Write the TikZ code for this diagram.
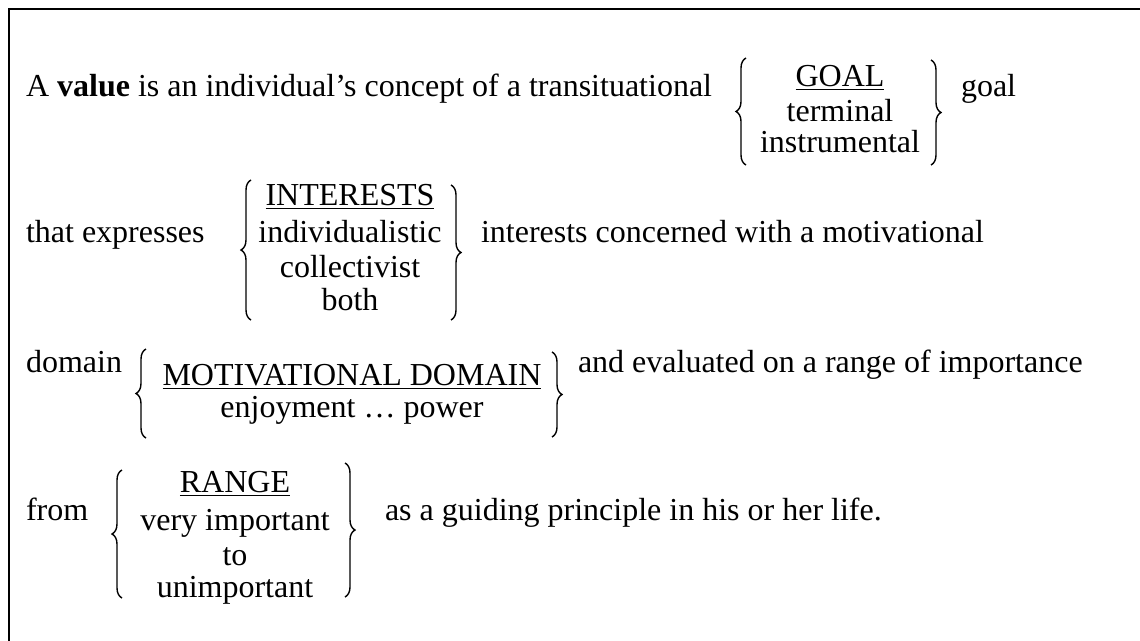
\documentclass[tikz,border=0pt]{standalone}
\usepackage{fontspec}
\setmainfont{Liberation Serif}
\usetikzlibrary{decorations.pathreplacing}

\tikzset{
  txt/.style={inner sep=0pt, outer sep=0pt, font=\fontsize{32}{36}\selectfont},
  lefttxt/.style={txt, anchor=base west},
  midtxt/.style={txt, anchor=base},
  curly/.style={line width=1.4pt, decorate, decoration={brace, amplitude=10pt}},
  uline/.style={line width=1.4pt},
  frame/.style={line width=2.5pt, line cap=rect}
}

\begin{document}
\begin{tikzpicture}[x=1pt, y=-1pt]
  \useasboundingbox (0,0) rectangle (1140,640);
  % open frame: only the top and left sides lie inside the page
  \draw[frame] (9,640) -- (9,9) -- (1140,9);

  % first line and the GOAL choice
  \node[lefttxt] (l1) at (26,96) {A \textbf{value} is an individual’s concept of a transituational};
  \node[midtxt] (goalh) at (840,86) {GOAL};
  \node[midtxt] (goal1) at (840,121) {terminal};
  \node[midtxt] (goal2) at (840,152) {instrumental};
  \node[lefttxt] (l1b) at (961,96) {goal};
  \draw[uline] ([yshift=-3.5pt]goalh.base west) -- ([yshift=-3.5pt]goalh.base east);
  \draw[curly] (746,165) -- (746,58);
  \draw[curly] (931,60) -- (931,165);

  % second line and the INTERESTS choice
  \node[lefttxt] (l2) at (26,242) {that expresses};
  \node[midtxt] (inth) at (350,205) {INTERESTS};
  \node[midtxt] (int1) at (350,242) {individualistic};
  \node[midtxt] (int2) at (350,277) {collectivist};
  \node[midtxt] (int3) at (350,310) {both};
  \node[lefttxt] (l2b) at (481,242) {interests concerned with a motivational};
  \draw[uline] ([yshift=-3.5pt]inth.base west) -- ([yshift=-3.5pt]inth.base east);
  \draw[curly] (251,320) -- (251,180);
  \draw[curly] (451,185) -- (451,320);

  % third line and the MOTIVATIONAL DOMAIN choice
  \node[lefttxt] (l3) at (26,372) {domain};
  \node[midtxt] (domh) at (352,385) {MOTIVATIONAL DOMAIN};
  \node[midtxt] (dom1) at (352,417) {enjoyment … power};
  \node[lefttxt] (l3b) at (578,372) {and evaluated on a range of importance};
  \draw[uline] ([yshift=-3.5pt]domh.base west) -- ([yshift=-3.5pt]domh.base east);
  \draw[curly] (146,438) -- (146,349);
  \draw[curly] (552,352) -- (552,437);

  % fourth line and the RANGE choice
  \node[lefttxt] (l4) at (26,520) {from};
  \node[midtxt] (rngh) at (235,492) {RANGE};
  \node[midtxt] (rng1) at (235,530) {very important};
  \node[midtxt] (rng2) at (235,565) {to};
  \node[midtxt] (rng3) at (235,597) {unimportant};
  \node[lefttxt] (l4b) at (385,520) {as a guiding principle in his or her life.};
  \draw[uline] ([yshift=-3.5pt]rngh.base west) -- ([yshift=-3.5pt]rngh.base east);
  \draw[curly] (122,598) -- (122,470);
  \draw[curly] (345,463) -- (345,597);
\end{tikzpicture}
\end{document}
